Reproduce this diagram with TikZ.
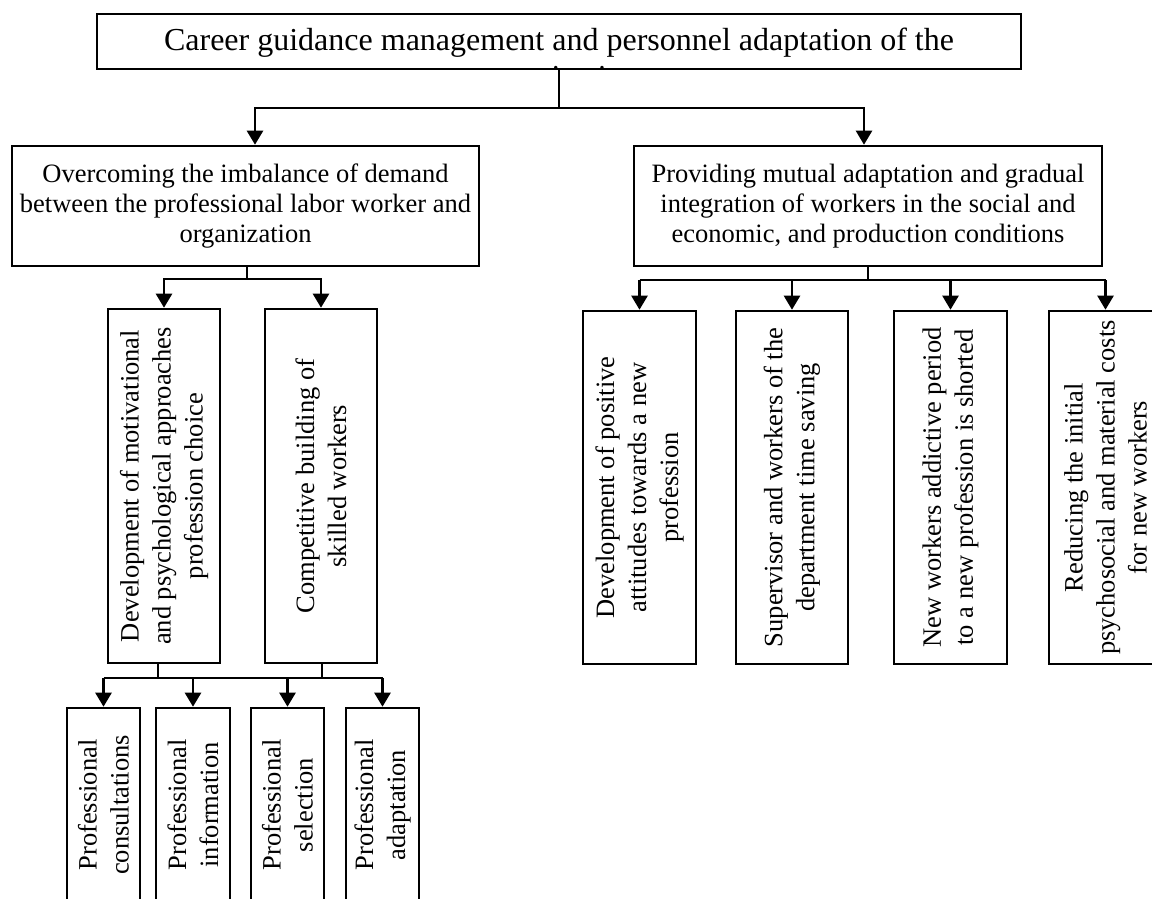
\documentclass[tikz,border=0pt]{standalone}
\usepackage{fontspec}
\setmainfont{Liberation Serif}
\usetikzlibrary{arrows.meta}

\begin{document}
\begin{tikzpicture}[x=1pt,y=-1pt,
  box/.style={draw=black, line width=2.6pt, inner sep=0pt, align=center},
  hbox/.style={box, font=\fontsize{26.5}{30}\selectfont},
  vbox/.style={box, rotate=90, font=\fontsize{26.5}{32}\selectfont},
  wire/.style={line width=2.4pt},
  arr/.style={wire, -{Triangle[width=16pt,length=14pt]}},
  toptext/.style={inner sep=0pt, align=center, font=\fontsize{32}{36.8}\selectfont}
]
\useasboundingbox (0,0) rectangle (1152,898);
\fill[white] (0,0) rectangle (1152,898);
\clip (0,0) rectangle (1152,898);

% root box; its two-line title is cut off by the frame
\node[box, minimum width=924pt, minimum height=55pt] (top) at (559,41.5) {};
\begin{scope}
  \clip (97,14) rectangle (1021,69);
  \node[toptext, anchor=north] (toptxt) at (559,27.5)
    {Career guidance management and personnel adaptation of the\\organization};
\end{scope}
\node[box, minimum width=924pt, minimum height=55pt] at (top) {};

% second level
\node[hbox, minimum width=467pt, minimum height=120pt] (L1) at (245.5,206)
  {Overcoming the imbalance of demand\\between the professional labor worker and\\organization};
\node[hbox, minimum width=468pt, minimum height=120pt] (R1) at (868,206)
  {Providing mutual adaptation and gradual\\integration of workers in the social and\\economic, and production conditions};

\coordinate (j1) at (559,108);
\draw[wire] (top.south) -- (j1);
\draw[arr] (j1) -| ([xshift=9.5pt]L1.north);
\draw[arr] (j1) -| ([xshift=-4pt]R1.north);

% left branch
\node[vbox, minimum width=354pt, minimum height=112pt] (A) at (164,486)
  {Development of motivational\\and psychological approaches\\profession choice};
\node[vbox, minimum width=354pt, minimum height=112pt] (B) at (321,486)
  {Competitive building of\\skilled workers};

\coordinate (j2) at (247,279);
\draw[wire] ([xshift=1.5pt]L1.south) -- (j2);
\draw[arr] (j2) -| (A.east);
\draw[arr] (j2) -| (B.east);

% bottom row
\node[vbox, minimum width=194pt, minimum height=73pt] (P1) at (103.5,805)
  {Professional\\consultations};
\node[vbox, minimum width=194pt, minimum height=74pt] (P2) at (193,805)
  {Professional\\information};
\node[vbox, minimum width=194pt, minimum height=73pt] (P3) at (287.5,805)
  {Professional\\selection};
\node[vbox, minimum width=194pt, minimum height=73pt] (P4) at (382.5,805)
  {Professional\\adaptation};

\coordinate (bl) at (103.5,678);
\coordinate (br) at (382.5,678);
\draw[wire] (bl) -- (br);
\draw[wire] ([xshift=-6pt]A.west) -- ([xshift=-6pt]A.west |- bl);
\draw[wire] ([xshift=1pt]B.west) -- ([xshift=1pt]B.west |- bl);
\draw[arr] (P1.east |- bl) -- (P1.east);
\draw[arr] (P2.east |- bl) -- (P2.east);
\draw[arr] (P3.east |- bl) -- (P3.east);
\draw[arr] (P4.east |- bl) -- (P4.east);

% right branch
\node[vbox, minimum width=353pt, minimum height=113pt] (Q1) at (639.5,487.5)
  {Development of positive\\attitudes towards a new\\profession};
\node[vbox, minimum width=353pt, minimum height=112pt] (Q2) at (792,487.5)
  {Supervisor and workers of the\\department time saving};
\node[vbox, minimum width=353pt, minimum height=113pt] (Q3) at (950.5,487.5)
  {New workers addictive period\\to a new profession is shorted};
\node[vbox, minimum width=353pt, minimum height=113pt] (Q4) at (1105.5,487.5)
  {Reducing the initial\\psychosocial and material costs\\for new workers};

\coordinate (ql) at (639.5,280);
\coordinate (qr) at (1105.5,280);
\draw[wire] (ql) -- (qr);
\draw[wire] (R1.south) -- (R1.south |- ql);
\draw[arr] (Q1.east |- ql) -- (Q1.east);
\draw[arr] (Q2.east |- ql) -- (Q2.east);
\draw[arr] (Q3.east |- ql) -- (Q3.east);
\draw[arr] (Q4.east |- ql) -- (Q4.east);
\end{tikzpicture}
\end{document}
